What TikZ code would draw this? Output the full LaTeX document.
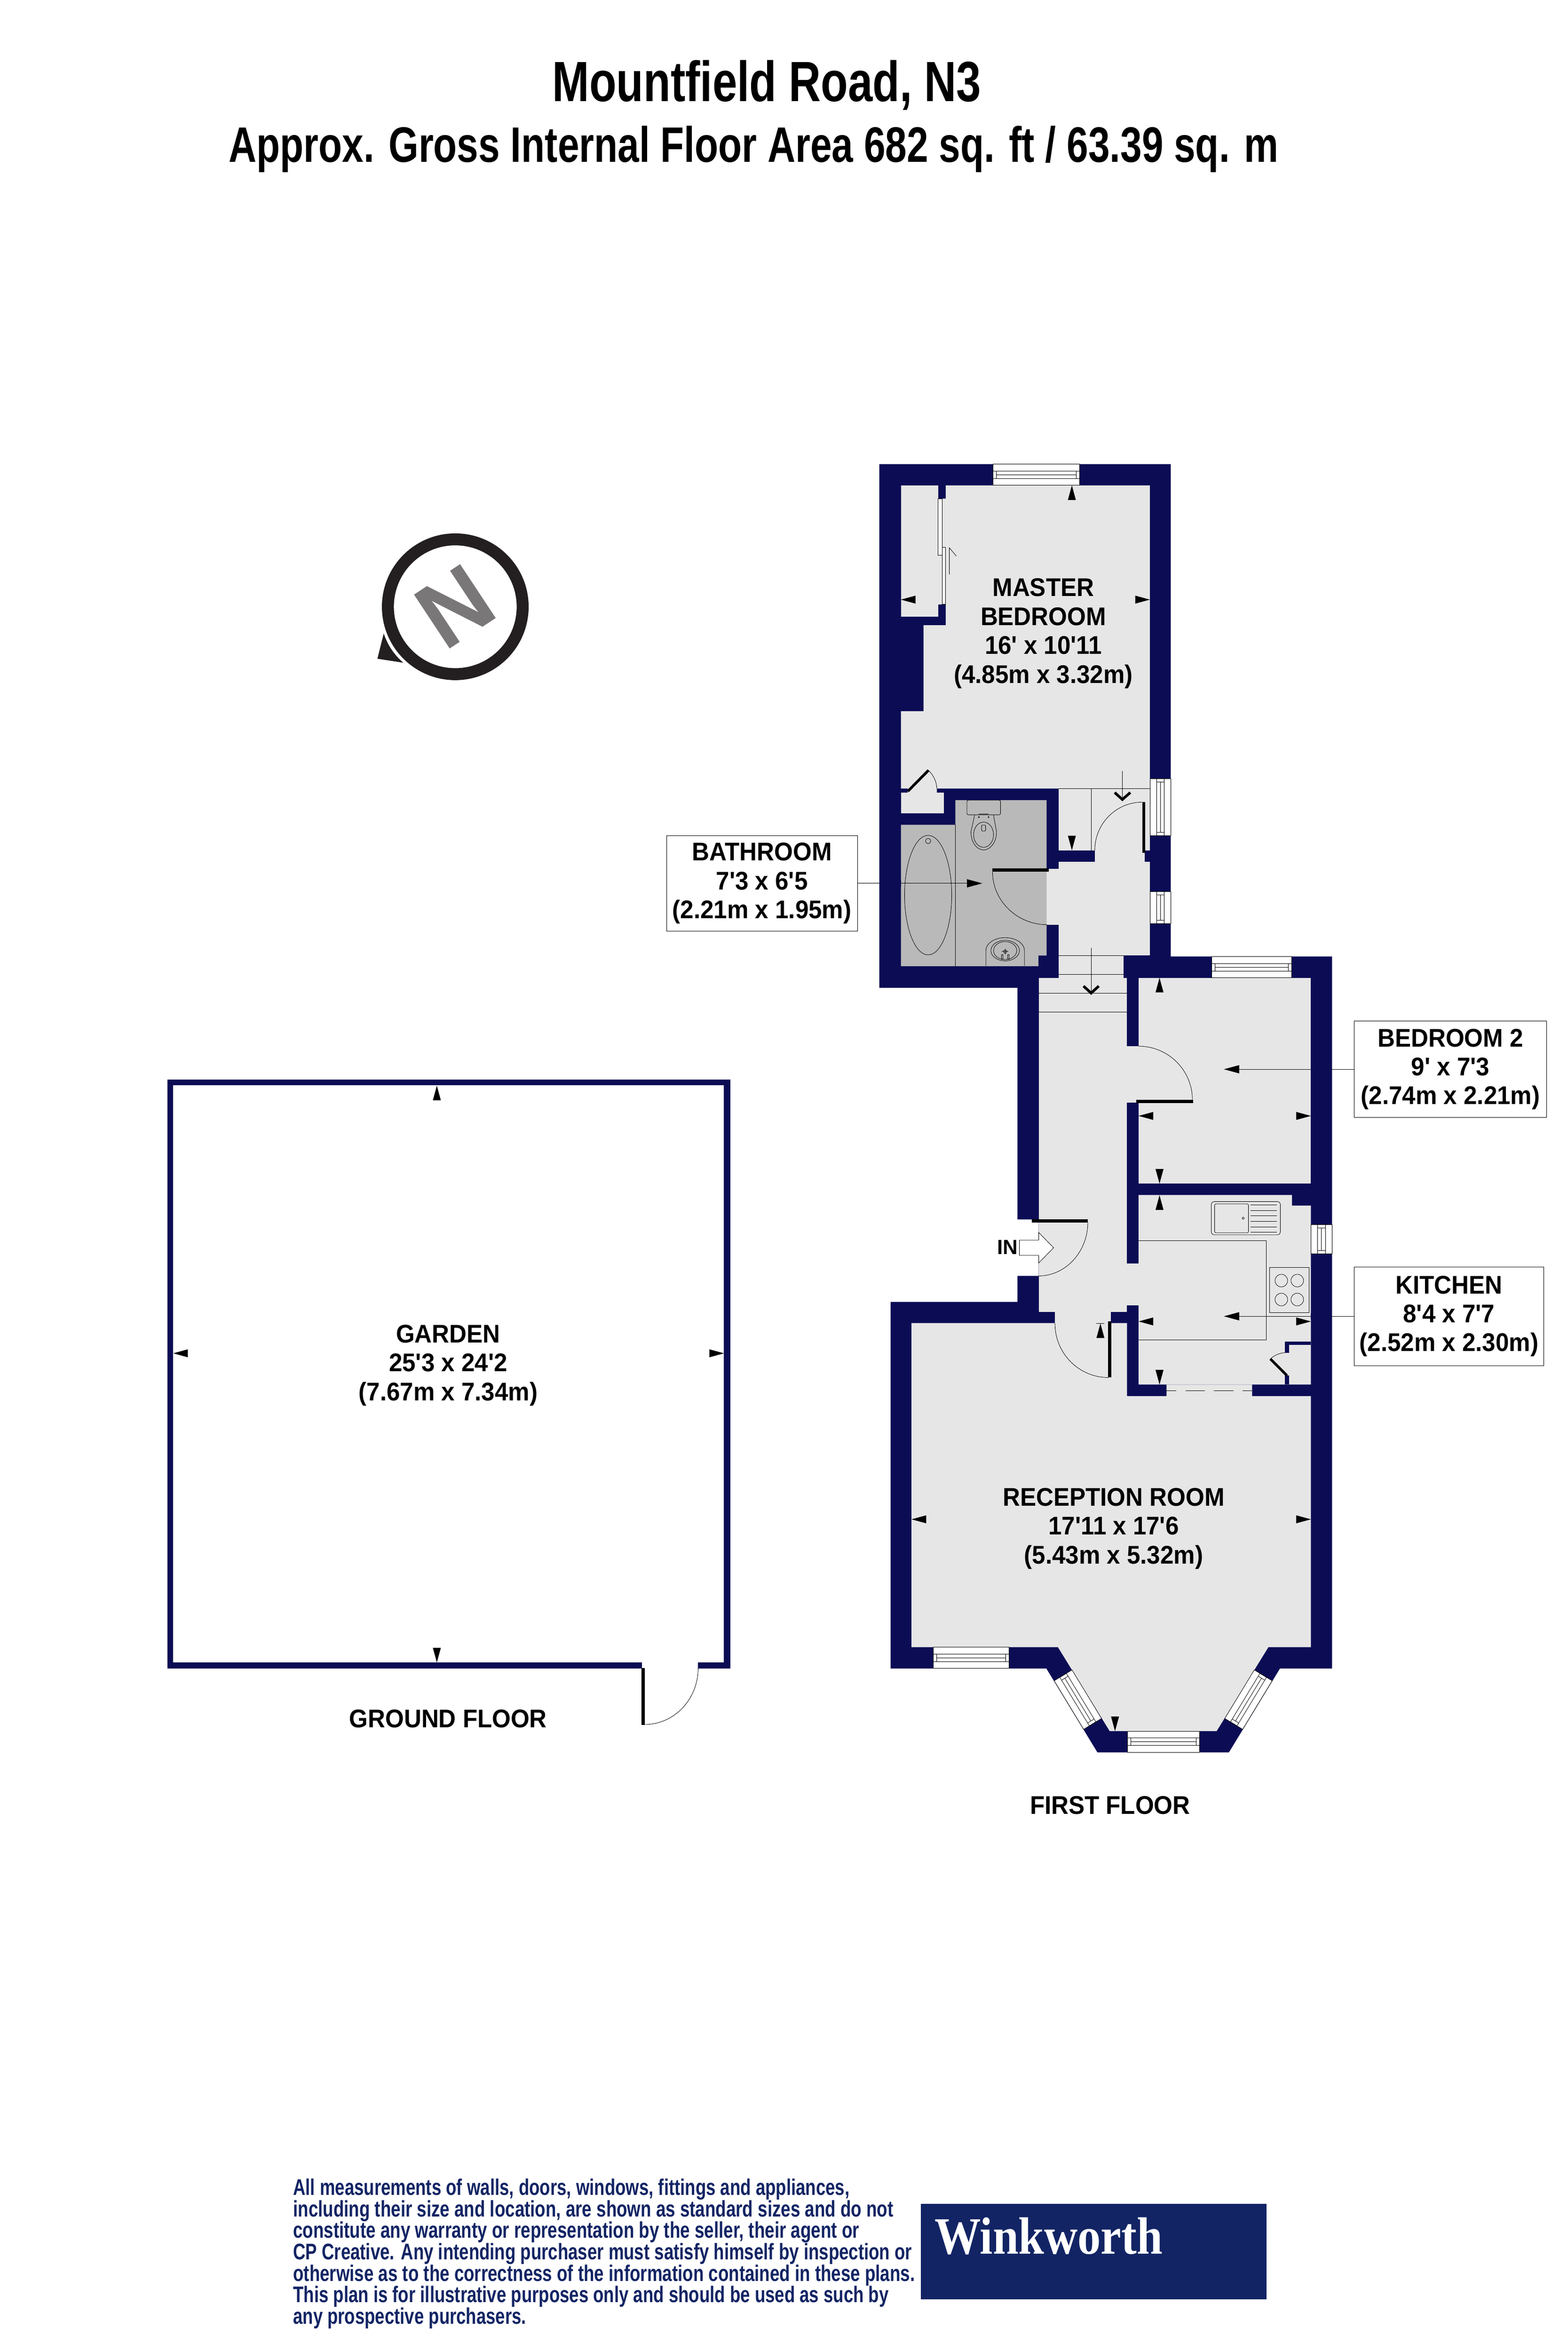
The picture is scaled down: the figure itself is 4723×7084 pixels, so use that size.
\documentclass[tikz,border=0pt]{standalone}
\usepackage{fontspec}
\usepackage{graphicx}
\setmainfont{Liberation Sans}[Ligatures=TeXOff]
\newfontfamily\logoserif{Liberation Serif}
\definecolor{wallc}{HTML}{0C0C55}
\definecolor{floorc}{HTML}{E6E6E6}
\definecolor{bathc}{HTML}{B9B9B9}
\definecolor{logoc}{HTML}{122464}
\definecolor{ringc}{HTML}{231F20}
\definecolor{ngrey}{HTML}{7A7778}
\newcommand\wl[2]{\resizebox{#1pt}{\height}{#2}}
\newcommand\triU[2]{\fill (#1,#2) -- ++(-12,44) -- ++(24,0) -- cycle;}
\newcommand\triD[2]{\fill (#1,#2) -- ++(-12,-44) -- ++(24,0) -- cycle;}
\newcommand\triL[2]{\fill (#1,#2) -- ++(44,-12) -- ++(0,24) -- cycle;}
\newcommand\triR[2]{\fill (#1,#2) -- ++(-44,-12) -- ++(0,24) -- cycle;}
\newcommand\winw[5]{\begin{scope}[shift={(#1,#2)},rotate=#3]
\filldraw[fill=white,thinln] ({-#4/2},{-#5/2}) rectangle ({#4/2},{#5/2});
\draw[thinln] ({-#4/2},-11.5) rectangle ({#4/2},11.5);
\draw[thinln] ({-#4/2+10},-11.5) -- ({-#4/2+10},11.5) ({#4/2-10},-11.5) -- ({#4/2-10},11.5) ({-#4/2+10},0) -- ({#4/2-10},0);
\end{scope}}
\tikzset{
 thinln/.style={draw=black,line width=1.2pt},
 roomtxt/.style={font=\fontsize{77}{87}\selectfont\bfseries,align=center,inner sep=0pt,xscale=.94,transform shape},
 callout/.style={roomtxt,draw=black,line width=1.2pt,fill=white},
 titletxt/.style={inner sep=0pt,anchor=base},
 wallfill/.style={fill=wallc},
 floorfill/.style={fill=floorc},
 chev/.style={draw=black,line width=8pt,line cap=butt,line join=miter}
}
\begin{document}
\begin{tikzpicture}[x=1pt,y=-1pt]
\useasboundingbox (0,0) rectangle (4723,7084);
\fill[white] (0,0) rectangle (4723,7084);
% titles
\node[titletxt,font=\fontsize{171}{180}\selectfont\bfseries] (title1) at (2310,306) {\wl{1291}{Mountfield Road, N3}};
\node[titletxt,font=\fontsize{150}{160}\selectfont\bfseries] (title2) at (2270,488) {\wl{3162}{Approx. Gross Internal Floor Area 682 sq. ft / 63.39 sq. m}};
% compass
\draw[ringc,line width=36pt] (1371.5,1827.5) circle [radius=203pt];
\fill[ringc] (1156,1908) -- (1137,1984) -- (1215,1996) .. controls (1190,1975) and (1168,1945) .. cycle;
\node[inner sep=0pt,text=ngrey,font=\fontsize{283}{283}\selectfont\bfseries,rotate=33.5] (northN) at (1371,1827) {N};
% garden
\fill[wallfill] (504,3252) rectangle (2200,5025);
\fill[white] (522,3269) rectangle (2181,5007);
\fill[white] (1934,5000) rectangle (2103,5030);
\fill[black] (1933,5024) rectangle (1942,5195);
\draw[thinln] (2103,5025) .. controls (2103,5118) and (2031,5194) .. (1942,5194);
\triU{1316}{3270}
\triD{1316}{5007}
\triL{522}{4076}
\triR{2181}{4076}
\node[roomtxt] (garden) at (1350,4112) {GARDEN\\25'3 x 24'2\\(7.67m x 7.34m)};
\node[roomtxt] (ground) at (1350,5177) {GROUND FLOOR};
% first floor walls
\fill[wallfill] (2649,1398) -- (3527,1398) -- (3527,2881) -- (4013,2881) -- (4013,5025) -- (3856,5025) -- (3702,5278) -- (3306,5278) -- (3152,5025) -- (2683,5025) -- (2683,3921) -- (3065,3921) -- (3065,3843) -- (3129,3843) -- (3129,3673) -- (3065,3673) -- (3065,2975) -- (2649,2975) -- cycle;
% floors
\begin{scope}[floorfill]
\fill (2714,1462) rectangle (2826,1858);
\fill (2826,1502) rectangle (2849,1820);
\fill (2849,1462) -- (3464,1462) -- (3464,2375) -- (2714,2375) -- (2714,2142) -- (2782,2142) -- (2782,1883) -- (2849,1883) -- cycle;
\fill (2735,2375) rectangle (2822,2387);
\fill (2714,2387) rectangle (2844,2449);
\fill (3189,2375) rectangle (3464,2561);
\fill (3298,2561) rectangle (3449,2596);
\fill (3189,2596) rectangle (3464,2878);
\fill (3153,2617) rectangle (3189,2786);
\fill (3189,2878) rectangle (3384,2945);
\fill (3129,2945) rectangle (3395,3951);
\fill (3178,3951) rectangle (3347,3986);
\fill (3395,3805) rectangle (3430,3931);
\fill (3430,2945) rectangle (3949,3565);
\fill (3395,3151) rectangle (3430,3321);
\fill (3430,3599) -- (3892,3599) -- (3892,3631) -- (3949,3631) -- (3949,4170) -- (3430,4170) -- cycle;
\fill (2746,3985) -- (3395,3985) -- (3395,4205) -- (3514,4205) -- (3514,4170) -- (3772,4170) -- (3772,4205) -- (3949,4205) -- (3949,4961) -- (3821,4961) -- (3665,5214) -- (3343,5214) -- (3187,4961) -- (2746,4961) -- cycle;
\end{scope}
\fill[bathc] (2878,2410) -- (3153,2410) -- (3153,2878) -- (3128,2878) -- (3128,2910) -- (2714,2910) -- (2714,2484) -- (2878,2484) -- cycle;
% thin cupboard walls
\fill[wallfill] (3871,4040) rectangle (3949,4050);
\fill[wallfill] (3871,4040) rectangle (3883,4074);
\fill[wallfill] (3871,4143) rectangle (3883,4170);
% windows
\winw{3122}{1430}{0}{260}{64}
\winw{3495.5}{2431.5}{90}{171}{63}
\winw{3495.5}{2733.5}{90}{97}{63}
\winw{3770.5}{2913}{0}{241}{64}
\winw{3981}{3733}{90}{88}{64}
\winw{2926}{4993}{0}{228}{64}
\winw{3505}{5246}{0}{218}{64}
\winw{3247}{5119}{-58.7}{171}{63}
\winw{3761}{5119}{58.7}{171}{63}
% sliding wardrobe
\filldraw[fill=white,thinln] (2826,1502) rectangle (2838,1672);
\filldraw[fill=white,thinln] (2838,1649) rectangle (2849,1820);
\draw[thinln] (2860,1730) -- (2860,1650) -- (2881,1675);
% small cupboard door master
\draw[black,line width=8pt] (2735,2383) -- (2797,2320);
\draw[thinln] (2797,2320) .. controls (2812,2335) and (2822,2355) .. (2822,2375);
% stair lines
\draw[thinln] (3189,2375) -- (3464,2375);
\draw[thinln] (3287,2375) -- (3287,2561);
\draw[thinln] (3381,2322) -- (3381,2410);
\draw[chev] (3358,2387) -- (3381,2408) -- (3405,2387);
\draw[thinln] (3189,2878) -- (3384,2878);
\draw[thinln] (3189,2935) -- (3384,2935);
\draw[thinln] (3129,2991) -- (3395,2991);
\draw[thinln] (3129,3048) -- (3395,3048);
\draw[thinln] (3287,2855) -- (3287,2992);
\draw[chev] (3264,2970) -- (3287,2991) -- (3310,2970);
% doors
\fill[black] (3441,2415) rectangle (3450,2569);
\draw[thinln] (3441,2416) .. controls (3362,2416) and (3298,2481) .. (3298,2561);
\fill[black] (2989,2616) rectangle (3160,2626);
\draw[thinln] (2990,2626) .. controls (2990,2713) and (3064,2785) .. (3154,2785);
\fill[black] (3423,3312) rectangle (3594,3322);
\draw[thinln] (3430,3151) .. controls (3519,3151) and (3592,3223) .. (3592,3312);
\fill[black] (3108,3673) rectangle (3277,3682);
\draw[thinln] (3277,3682) .. controls (3277,3770) and (3210,3843) .. (3129,3843);
\fill[black] (3338,3980) rectangle (3348,4149);
\draw[thinln] (3178,3986) .. controls (3178,4076) and (3250,4149) .. (3339,4149);
\draw[black,line width=8pt] (3827,4093) -- (3877,4143);
\draw[thinln] (3827,4093) .. controls (3838,4082) and (3855,4075) .. (3871,4074);
% dashed opening
\draw[thinln,dash pattern=on 59pt off 27pt,dash phase=29pt] (3514,4188) -- (3772,4188);
% bath
\draw[thinln] (2878,2484) -- (2878,2910);
\draw[thinln] (2796,2696) ellipse [x radius=71pt,y radius=180pt];
\draw[thinln] (2796,2533) ellipse [x radius=8pt,y radius=8pt];
% toilet
\draw[thinln,rounded corners=4pt] (2913,2410) rectangle (3014,2454);
\draw[thinln] (2936,2455) -- (2925,2505) .. controls (2925,2540) and (2945,2560) .. (2963,2560) .. controls (2981,2560) and (3002,2540) .. (3002,2505) -- (2993,2455);
\draw[thinln] (2963,2514) ellipse [x radius=30pt,y radius=38pt];
\draw[thinln,rounded corners=3pt] (2957,2485) rectangle (2969,2503);
\fill (2949,2461) circle [radius=2.5pt];
\fill (2978,2461) circle [radius=2.5pt];
\draw[thinln] (2949,2452) -- (2978,2452);
% basin
\draw[thinln] (2970,2909) -- (2970,2863) .. controls (2970,2840) and (2998,2824) .. (3028,2824) .. controls (3058,2824) and (3086,2840) .. (3086,2863) -- (3086,2909);
\draw[thinln] (3028,2863) ellipse [x radius=43pt,y radius=31pt];
\draw[thinln] (3028,2863) ellipse [x radius=35pt,y radius=27pt];
\draw[thinln] (3028,2866) circle [radius=5pt];
\draw[thinln] (3018,2866) -- (3038,2866) (3028,2857) -- (3028,2875);
\draw[thinln] (3017,2875) rectangle (3021,2890);
\draw[thinln] (3036,2875) rectangle (3040,2890);
% kitchen fittings
\draw[thinln] (3430,3736) -- (3814,3736) -- (3814,4035) -- (3430,4035);
\draw[thinln,rounded corners=8pt] (3649,3619) rectangle (3857,3719);
\draw[thinln,rounded corners=4pt] (3659,3626) rectangle (3761,3713);
\draw[thinln] (3745,3669) circle [radius=3pt];
\foreach \yy in {3629,3646,3661,3679,3696,3711} {\draw[thinln] (3767,\yy) -- (3847,\yy);}
\draw[thinln] (3824,3817) rectangle (3944,3954);
\draw[thinln] (3860,3857) circle [radius=19pt];
\draw[thinln] (3908,3857) circle [radius=19pt];
\draw[thinln] (3860,3914) circle [radius=19pt];
\draw[thinln] (3908,3914) circle [radius=19pt];
% callouts
\node[callout,minimum width=611.7pt,minimum height=287pt] (bathbox) at (2295.5,2660.5) {BATHROOM\\7'3 x 6'5\\(2.21m x 1.95m)};
\node[callout,minimum width=616pt,minimum height=291pt] (bed2box) at (4369.5,3220.5) {BEDROOM 2\\9' x 7'3\\(2.74m x 2.21m)};
\node[callout,minimum width=606.4pt,minimum height=297pt] (kitbox) at (4365,3964.5) {KITCHEN\\8'4 x 7'7\\(2.52m x 2.30m)};
\coordinate (bathtip) at (2913,2660.5);
\coordinate (bedtip) at (3733,3220.5);
\coordinate (kittip) at (3733,3964.5);
\draw[thinln] (bathbox.east) -- (bathtip);
\draw[thinln] (bed2box.west) -- (bedtip);
\draw[thinln] (kitbox.west) -- (kittip);
\fill[wallfill] (2649,2650) rectangle (2714,2670);
\fill[wallfill] (3949,3210) rectangle (4013,3230);
\fill[wallfill] (3949,3954) rectangle (4013,3974);
\fill (2959,2660.5) -- (2913,2648) -- (2913,2673) -- cycle;
\fill (3687,3220.5) -- (3733,3208) -- (3733,3233) -- cycle;
\fill (3687,3964.5) -- (3733,3952) -- (3733,3977) -- cycle;
% dimension triangles
\triU{3229}{1462}
\triD{3229}{2561}
\triL{2714}{1806}
\triR{3464}{1806}
\triU{3493}{2945}
\triD{3493}{3565}
\triL{3430}{3361}
\triR{3949}{3361}
\triU{3493}{3600}
\triD{3493}{4170}
\triL{3430}{3980}
\triR{3949}{3980}
\triU{3315}{3986}
\draw[thinln] (3303,3986) -- (3327,3986);
\triL{2746}{4576}
\triR{3949}{4576}
\triD{3359}{5214}
% entry arrow
\filldraw[fill=white,thinln] (3071,3735) -- (3129,3735) -- (3129,3712) -- (3174,3758) -- (3129,3804) -- (3129,3781) -- (3071,3781) -- cycle;
\node[titletxt,font=\fontsize{62}{70}\selectfont\bfseries] (inlabel) at (3035,3778) {IN};
% room labels
\node[roomtxt] (master) at (3143,1908) {MASTER\\BEDROOM\\16' x 10'11\\(4.85m x 3.32m)};
\node[roomtxt] (reception) at (3355,4604) {RECEPTION ROOM\\17'11 x 17'6\\(5.43m x 5.32m)};
\node[roomtxt] (first) at (3344,5438) {FIRST FLOOR};
% disclaimer
\node[inner sep=0pt,anchor=north west,align=left,text=logoc,font=\fontsize{68}{62.5}\selectfont\bfseries] (disclaimer) at (883,6562) {\wl{1676}{All measurements of walls, doors, windows, fittings and appliances,}\\
\wl{1808}{including their size and location, are shown as standard sizes and do not}\\
\wl{1705}{constitute any warranty or representation by the seller, their agent or}\\
\wl{1864}{CP Creative. Any intending purchaser must satisfy himself by inspection or}\\
\wl{1873}{otherwise as to the correctness of the information contained in these plans.}\\
\wl{1794}{This plan is for illustrative purposes only and should be used as such by}\\
\wl{702}{any prospective purchasers.}};
% logo
\fill[logoc] (2774,6638) rectangle (3816,6925);
\node[titletxt,text=white,font=\fontsize{158}{160}\selectfont\logoserif\bfseries] (logo) at (3159,6788) {\wl{687}{Winkworth}};
\end{tikzpicture}
\end{document}
